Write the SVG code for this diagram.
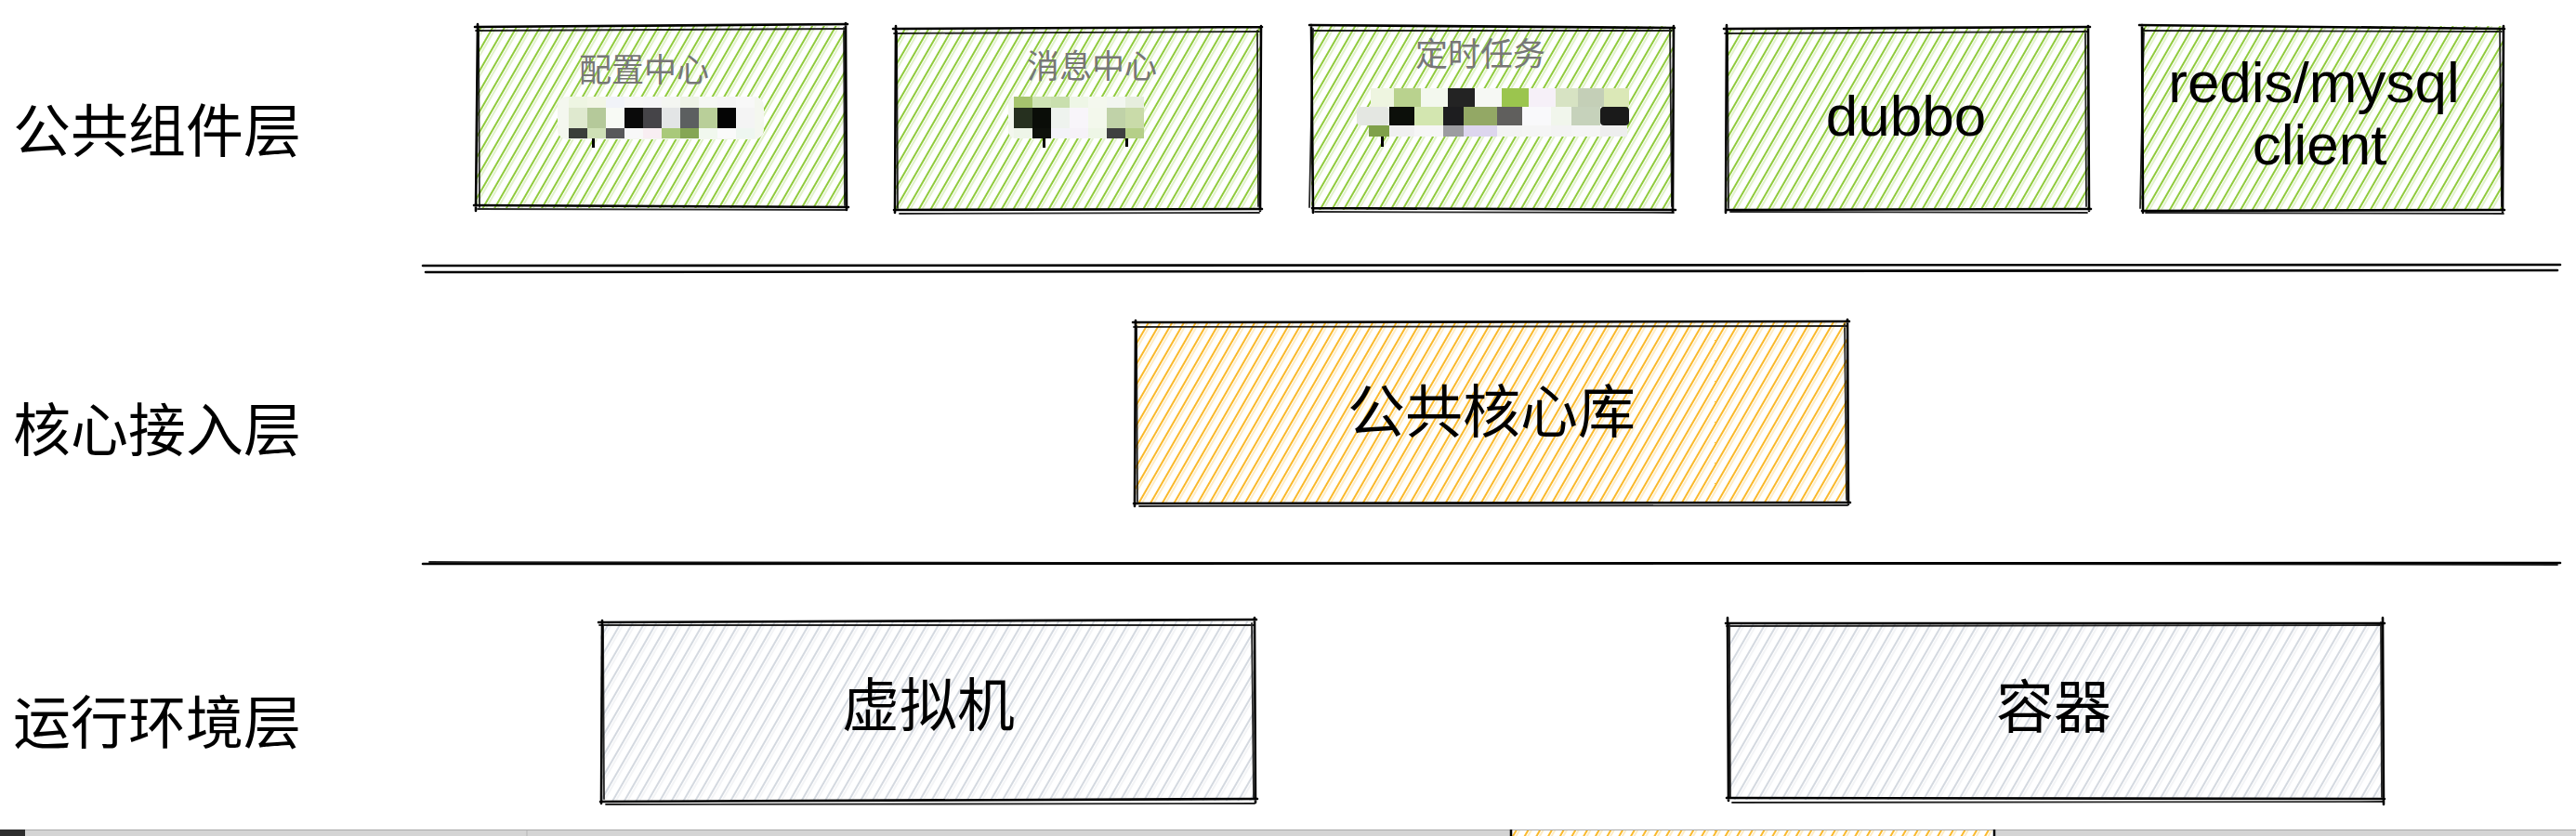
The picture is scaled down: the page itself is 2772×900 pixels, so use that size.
<svg xmlns="http://www.w3.org/2000/svg" width="2772" height="900" viewBox="0 0 2772 900">
<defs>
<style>
.lbl{font-family:"Noto Sans CJK SC","Noto Sans",sans-serif;font-size:62px;fill:#000}
.t{font-family:"Noto Sans CJK SC","Noto Sans",sans-serif;font-size:62px;fill:#000;text-anchor:middle}
.lat{font-family:"Liberation Sans",Arial,sans-serif;font-size:62px;fill:#000;text-anchor:middle}
.sm{font-family:"Noto Sans CJK SC","Noto Sans",sans-serif;font-size:35px;fill:#777;text-anchor:middle}
.edge{fill:none;stroke:#000;stroke-width:2.6;stroke-linecap:round;stroke-linejoin:round}
.edge2{fill:none;stroke:#000;stroke-width:1.8;stroke-linecap:round;stroke-opacity:.85}
.sep{fill:none;stroke:#000;stroke-width:2.6;stroke-linecap:round}
</style>
<pattern id="hg" patternUnits="userSpaceOnUse" width="11" height="14" patternTransform="rotate(30)">
<line x1="1" y1="0" x2="1" y2="14" stroke="#7cc21a" stroke-width="1.7"/>
<line x1="4" y1="0" x2="4" y2="14" stroke="#7cc21a" stroke-width="0.9" stroke-opacity=".5"/>
</pattern>
<pattern id="ho" patternUnits="userSpaceOnUse" width="11" height="14" patternTransform="rotate(30)">
<line x1="1" y1="0" x2="1" y2="14" stroke="#f9ad05" stroke-width="1.7"/>
<line x1="4" y1="0" x2="4" y2="14" stroke="#f9ad05" stroke-width="0.9" stroke-opacity=".5"/>
</pattern>
<pattern id="hy" patternUnits="userSpaceOnUse" width="11" height="14" patternTransform="rotate(30)">
<line x1="1" y1="0" x2="1" y2="14" stroke="#c9d0d8" stroke-width="1.6"/>
<line x1="4" y1="0" x2="4" y2="14" stroke="#c9d0d8" stroke-width="0.9" stroke-opacity=".5"/>
</pattern>
</defs>
<rect width="2772" height="900" fill="#fff"/>

<g id="labels">
<text class="lbl" x="14" y="164">公共组件层</text>
<text class="lbl" x="14" y="486">核心接入层</text>
<text class="lbl" x="14" y="801">运行环境层</text>
</g>

<g id="separators">
<path class="sep" d="M455 286 L2755 285"/>
<path class="sep" d="M458 293 L2752 291"/>
<path class="sep" d="M455 607 L2755 606"/>
<path class="edge2" d="M462 605 L2752 608"/>
</g>

<g id="config-center">
<rect x="513" y="28" width="397" height="196" fill="url(#hg)"/>
<path class="edge" d="M511 29 L912 26 M910 25 L911 226 M913 223 L510 221 M512 227 L514 26"/>
<path class="edge2" d="M512 33 L909 31 M908 30 L909 221 M910 226 L514 225 M516 223 L515 31"/>
<text class="sm" x="693" y="88">配置中心</text>
<g id="mosaic1">
<rect x="600" y="104" width="222" height="46" rx="10" fill="#f4f7ef"/>
<rect x="612" y="104" width="20" height="12" fill="#eef5e2"/><rect x="632" y="104" width="20" height="12" fill="#f2f6e6"/><rect x="652" y="104" width="20" height="12" fill="#f1f3f8"/><rect x="672" y="104" width="20" height="12" fill="#f6f6f6"/><rect x="692" y="104" width="20" height="12" fill="#f5f5f7"/><rect x="712" y="104" width="20" height="12" fill="#f4f6f2"/><rect x="732" y="104" width="20" height="12" fill="#eef3e6"/><rect x="752" y="104" width="20" height="12" fill="#f6f8f4"/><rect x="772" y="104" width="20" height="12" fill="#f5f5f5"/><rect x="792" y="104" width="20" height="12" fill="#f8f8f8"/>
<rect x="612" y="116" width="20" height="22" fill="#dfe9cf"/><rect x="632" y="116" width="20" height="22" fill="#b5c99a"/><rect x="652" y="116" width="20" height="22" fill="#f8faf5"/><rect x="672" y="116" width="20" height="22" fill="#0a0a0a"/><rect x="692" y="116" width="20" height="22" fill="#454448"/><rect x="712" y="116" width="20" height="22" fill="#e3e5e6"/><rect x="732" y="116" width="20" height="22" fill="#5c5f60"/><rect x="752" y="116" width="20" height="22" fill="#b9cf99"/><rect x="772" y="116" width="20" height="22" fill="#050505"/><rect x="792" y="116" width="20" height="22" fill="#f4f4f4"/>
<rect x="612" y="138" width="20" height="11" fill="#3a3d3a"/><rect x="632" y="138" width="20" height="11" fill="#cfe0b6"/><rect x="652" y="138" width="20" height="11" fill="#58585a"/><rect x="672" y="138" width="20" height="11" fill="#f8f8f8"/><rect x="692" y="138" width="20" height="11" fill="#f8eef2"/><rect x="712" y="138" width="20" height="11" fill="#a9c97a"/><rect x="732" y="138" width="20" height="11" fill="#85a654"/><rect x="752" y="138" width="20" height="11" fill="#f1f8ee"/><rect x="772" y="138" width="20" height="11" fill="#fafafa"/><rect x="792" y="138" width="20" height="11" fill="#eef6f0"/>
<rect x="637" y="149" width="3" height="10" fill="#000"/>
</g>
</g>

<g id="message-center">
<rect x="963" y="30" width="393" height="196" fill="url(#hg)"/>
<path class="edge" d="M961 31 L1358 29 M1357 28 L1356 227 M1358 225 L962 226 M963 229 L964 28"/>
<path class="edge2" d="M962 36 L1355 34 M1353 33 L1354 222 M1355 229 L968 230 M966 224 L965 34"/>
<text class="sm" x="1175" y="84">消息中心</text>
<g id="mosaic2">
<rect x="1085" y="104" width="146" height="45" rx="8" fill="#f3f7ee"/>
<rect x="1091" y="104" width="20" height="12" fill="#a6c46e"/><rect x="1111" y="104" width="20" height="12" fill="#cfe3b5"/><rect x="1131" y="104" width="20" height="12" fill="#c9dfae"/><rect x="1151" y="104" width="20" height="12" fill="#eef6e6"/><rect x="1171" y="104" width="20" height="12" fill="#f4f8ee"/><rect x="1191" y="104" width="20" height="12" fill="#f2f6f0"/><rect x="1211" y="104" width="20" height="12" fill="#e6eedd"/>
<rect x="1091" y="116" width="20" height="22" fill="#26301f"/><rect x="1111" y="116" width="20" height="22" fill="#0a0d08"/><rect x="1131" y="116" width="20" height="22" fill="#eef3ee"/><rect x="1151" y="116" width="20" height="22" fill="#f8f5fa"/><rect x="1171" y="116" width="20" height="22" fill="#f3f8ec"/><rect x="1191" y="116" width="20" height="22" fill="#c0d2a8"/><rect x="1211" y="116" width="20" height="22" fill="#c9dba9"/>
<rect x="1091" y="138" width="20" height="11" fill="#eef5e8"/><rect x="1111" y="138" width="20" height="11" fill="#0e110b"/><rect x="1131" y="138" width="20" height="11" fill="#f3f3f8"/><rect x="1151" y="138" width="20" height="11" fill="#f6f2f8"/><rect x="1171" y="138" width="20" height="11" fill="#eef6e6"/><rect x="1191" y="138" width="20" height="11" fill="#3e4040"/><rect x="1211" y="138" width="20" height="11" fill="#b5cf88"/>
<rect x="1122" y="149" width="3" height="10" fill="#000"/><rect x="1211" y="149" width="3" height="9" fill="#000"/>
</g>
</g>

<g id="scheduled-task">
<rect x="1411" y="28" width="389" height="198" fill="url(#hg)"/>
<path class="edge" d="M1409 27 L1802 30 M1801 28 L1800 228 M1803 226 L1412 224 M1413 229 L1411 27"/>
<path class="edge2" d="M1412 33 L1799 33 M1797 31 L1799 222 M1801 229 L1415 228 M1409 223 L1413 31"/>
<text class="sm" x="1593" y="71">定时任务</text>
<g id="mosaic3">
<rect x="1475" y="95" width="25" height="20" fill="#eef5e0"/><rect x="1500" y="95" width="29" height="20" fill="#b9d28e"/><rect x="1529" y="95" width="29" height="20" fill="#f3f8ee"/><rect x="1558" y="95" width="29" height="20" fill="#232323"/><rect x="1587" y="95" width="29" height="20" fill="#f6f8f4"/><rect x="1616" y="95" width="29" height="20" fill="#9bc54e"/><rect x="1645" y="95" width="29" height="20" fill="#f6f0f8"/><rect x="1674" y="95" width="24" height="20" fill="#d7e3c3"/><rect x="1698" y="95" width="28" height="20" fill="#c4cfb7"/><rect x="1726" y="95" width="27" height="20" fill="#dbe8b7"/>
<rect x="1460" y="115" width="35" height="20" rx="4" fill="#e4e7e2"/><rect x="1495" y="115" width="27" height="20" fill="#0c0f0a"/><rect x="1522" y="115" width="31" height="20" fill="#d3e6b0"/><rect x="1553" y="115" width="22" height="20" fill="#1d1d1f"/><rect x="1575" y="115" width="36" height="20" fill="#93a865"/><rect x="1611" y="115" width="27" height="20" fill="#605f5d"/><rect x="1638" y="115" width="31" height="20" fill="#f9f9fb"/><rect x="1669" y="115" width="22" height="20" fill="#f1f6ec"/><rect x="1691" y="115" width="31" height="20" fill="#c6d2bb"/><rect x="1722" y="115" width="31" height="20" rx="4" fill="#1a1a1a"/>
<rect x="1473" y="135" width="22" height="12" fill="#7fa04a"/><rect x="1495" y="135" width="27" height="12" fill="#f0f0f0"/><rect x="1522" y="135" width="31" height="12" fill="#f6f6f6"/><rect x="1553" y="135" width="22" height="12" fill="#9c9ca0"/><rect x="1575" y="135" width="36" height="12" fill="#ddd6ee"/><rect x="1611" y="135" width="27" height="12" fill="#f3f3f3"/><rect x="1638" y="135" width="31" height="12" fill="#f5f5f5"/><rect x="1669" y="135" width="22" height="12" fill="#f3f3f3"/><rect x="1691" y="135" width="31" height="12" fill="#f5f5f5"/><rect x="1722" y="135" width="29" height="12" fill="#eeeeee"/>
<rect x="1486" y="147" width="3" height="11" fill="#000"/>
</g>
</g>

<g id="dubbo">
<rect x="1857" y="30" width="390" height="196" fill="url(#hg)"/>
<path class="edge" d="M1855 31 L2249 29 M2247 28 L2248 227 M2250 225 L1858 226 M1857 229 L1858 27"/>
<path class="edge2" d="M1856 36 L2246 34 M2244 33 L2245 222 M2246 229 L1862 228 M1860 224 L1859 33"/>
<text class="lat" x="2051" y="146">dubbo</text>
</g>

<g id="redis-mysql-client">
<rect x="2304" y="28" width="389" height="198" fill="url(#hg)"/>
<path class="edge" d="M2302 27 L2695 31 M2694 28 L2693 228 M2695 226 L2305 227 M2306 229 L2305 27"/>
<path class="edge2" d="M2305 33 L2692 34 M2690 31 L2692 222 M2694 230 L2309 229 M2303 224 L2307 31"/>
<text class="lat" x="2490" y="110">redis/mysql</text>
<text class="lat" x="2496" y="177">client</text>
</g>

<g id="core-lib">
<rect x="1221" y="347" width="767" height="195" fill="url(#ho)"/>
<path class="edge" d="M1219 347 L1990 346 M1988 344 L1989 543 M1991 541 L1220 542 M1221 545 L1222 345"/>
<path class="edge2" d="M1220 352 L1987 351 M1985 349 L1987 538 M1988 544 L1226 545 M1224 540 L1223 351"/>
<text class="t" x="1605" y="466">公共核心库</text>
</g>

<g id="vm">
<rect x="646" y="669" width="704" height="193" fill="url(#hy)"/>
<path class="edge" d="M644 670 L1352 667 M1350 665 L1351 864 M1353 860 L646 863 M647 865 L648 668"/>
<path class="edge2" d="M645 673 L1349 673 M1347 671 L1349 859 M1350 865 L652 866 M650 860 L649 673"/>
<text class="t" x="999" y="782">虚拟机</text>
</g>

<g id="container">
<rect x="1859" y="671" width="705" height="190" fill="url(#hy)"/>
<path class="edge" d="M1857 671 L2566 671 M2564 665 L2565 866 M2566 860 L1858 859 M1860 862 L1859 665"/>
<path class="edge2" d="M1858 674 L2563 673 M2562 670 L2563 858 M2564 863 L1864 864 M1862 858 L1861 673"/>
<text class="t" x="2210" y="784">容器</text>
</g>

<g id="bottom-bar">
<rect x="0" y="893" width="2772" height="7" fill="#d4d4d4"/>
<line x1="0" y1="893.5" x2="2772" y2="893.5" stroke="#a9a9a9" stroke-width="1"/>
<rect x="0" y="893" width="27" height="7" fill="#2e2e2e"/>
<line x1="567" y1="894" x2="567" y2="900" stroke="#b5b5b5" stroke-width="1"/>
<rect x="1625" y="894" width="522" height="6" fill="#fff"/>
<rect x="1625" y="894" width="522" height="6" fill="url(#ho)"/>
<line x1="1626" y1="893" x2="1626" y2="900" stroke="#000" stroke-width="2.5"/>
<line x1="2146" y1="893" x2="2146" y2="900" stroke="#000" stroke-width="2.5"/>
</g>
</svg>
